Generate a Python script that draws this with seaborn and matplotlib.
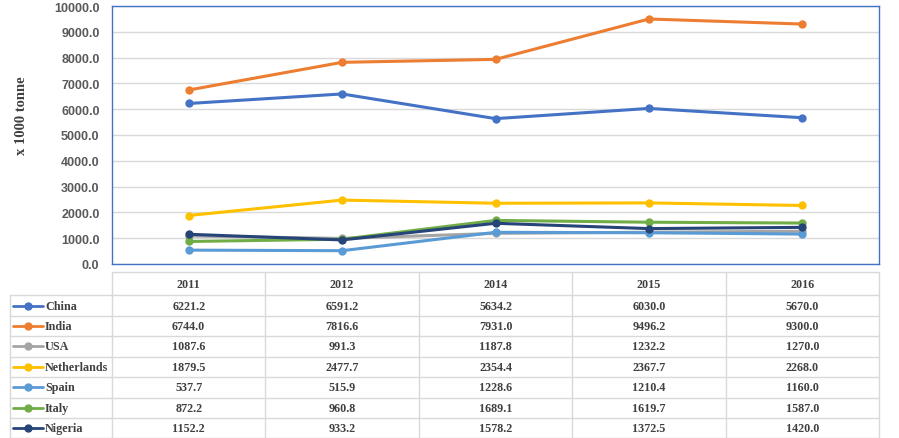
import pandas as pd
import numpy as np
import matplotlib
matplotlib.use('Agg')
import matplotlib.pyplot as plt
from matplotlib.lines import Line2D
import seaborn as sns

years = ['2011', '2012', '2014', '2015', '2016']
countries = ['China', 'India', 'USA', 'Netherlands', 'Spain', 'Italy', 'Nigeria']
china = [6221.2, 6591.2, 5634.2, 6030.0, 5670.0]
india = [6744.0, 7816.6, 7931.0, 9496.2, 9300.0]
usa = [1087.6, 991.3, 1187.8, 1232.2, 1270.0]
netherlands = [1879.5, 2477.7, 2354.4, 2367.7, 2268.0]
spain = [537.7, 515.9, 1228.6, 1210.4, 1160.0]
italy = [872.2, 960.8, 1689.1, 1619.7, 1587.0]
nigeria = [1152.2, 933.2, 1578.2, 1372.5, 1420.0]
colors = ['#4472C4', '#ED7D31', '#A5A5A5', '#FFC000', '#5B9BD5', '#70AD47', '#264478']

series = [china, india, usa, netherlands, spain, italy, nigeria]
rows = []
for c, vals in zip(countries, series):
    for i, v in enumerate(vals):
        rows.append({'country': c, 'pos': i, 'value': v})
df = pd.DataFrame(rows)

sns.set_theme(style='white')
plt.rcParams['font.family'] = ['Liberation Sans', 'DejaVu Sans']

W, H = 899, 439
fig = plt.figure(figsize=(W / 100, H / 100), dpi=100)

# layout in pixels
L, R, T, B = 112, 879, 7, 265
tab_top, head_h, row_h = 273, 23.3, 20.45
leg_left = 10
grid_col = '#D9D9D9'
txt_col = '#404040'

# ── background overlay for the data table ──
tab = fig.add_axes([0, 0, 1, 1])
tab.set_xlim(0, W)
tab.set_ylim(H, 0)
tab.axis('off')

ncol = len(years)
col_w = (R - L) / ncol
first_row = tab_top + head_h
bottom = first_row + row_h * len(countries)
# vertical lines
tab.plot([L, L], [tab_top, bottom], color=grid_col, lw=1)
for j in range(1, ncol + 1):
    x = L + j * col_w
    tab.plot([x, x], [tab_top, bottom], color=grid_col, lw=1)
tab.plot([leg_left, leg_left], [first_row, bottom], color=grid_col, lw=1)
# horizontal lines
tab.plot([L, R], [tab_top, tab_top], color=grid_col, lw=1)
for k in range(len(countries) + 1):
    y = first_row + k * row_h
    tab.plot([leg_left, R], [y, y], color=grid_col, lw=1)

serif = ['Liberation Serif', 'DejaVu Serif']
for j, yr in enumerate(years):
    tab.text(L + (j + 0.5) * col_w, tab_top + head_h / 2, yr, ha='center', va='center',
             fontsize=8.7, fontweight='bold', family=serif, color=txt_col)
for k, (c, vals, col) in enumerate(zip(countries, series, colors)):
    yc = first_row + (k + 0.5) * row_h
    tab.add_line(Line2D([13, 43], [yc, yc], color=col, lw=2))
    tab.plot([28], [yc], 'o', color=col, ms=5)
    tab.text(45, yc, c, ha='left', va='center', fontsize=8.7, fontweight='bold',
             family=serif, color=txt_col)
    for j, v in enumerate(vals):
        tab.text(L + (j + 0.5) * col_w, yc, f'{v:.1f}', ha='center', va='center',
                 fontsize=8.7, fontweight='bold', family=serif, color=txt_col)

# ── line chart ──
ax = fig.add_axes([L / W, 1 - B / H, (R - L) / W, (B - T) / H])
sns.lineplot(data=df, x='pos', y='value', hue='country', hue_order=countries,
             palette=colors, marker='o', markersize=6, markeredgewidth=0,
             linewidth=2.2, ax=ax, legend=False)
ax.set_xlim(-0.5, ncol - 0.5)
ax.set_ylim(0, 10000)
ax.set_yticks(np.arange(0, 10001, 1000))
ax.set_yticklabels([f'{t:.1f}' for t in np.arange(0, 10001, 1000)],
                   fontsize=9, fontweight='bold', color='#595959')
ax.set_xticks([])
ax.set_xlabel('')
ax.set_ylabel('x 1000 tonne', fontsize=10.5, fontweight='bold', family=serif,
              color=txt_col)
ax.yaxis.label.set_va('center')
ax.yaxis.set_label_coords((22 - L) / (R - L), (B - 116) / (B - T))
ax.yaxis.grid(True, color=grid_col, lw=1)
ax.tick_params(axis='y', length=0, pad=9)
ax.set_facecolor('none')
for s in ax.spines.values():
    s.set_color('#4472C4')
    s.set_linewidth(1)

fig.savefig('out.png', dpi=100)
plt.close(fig)
